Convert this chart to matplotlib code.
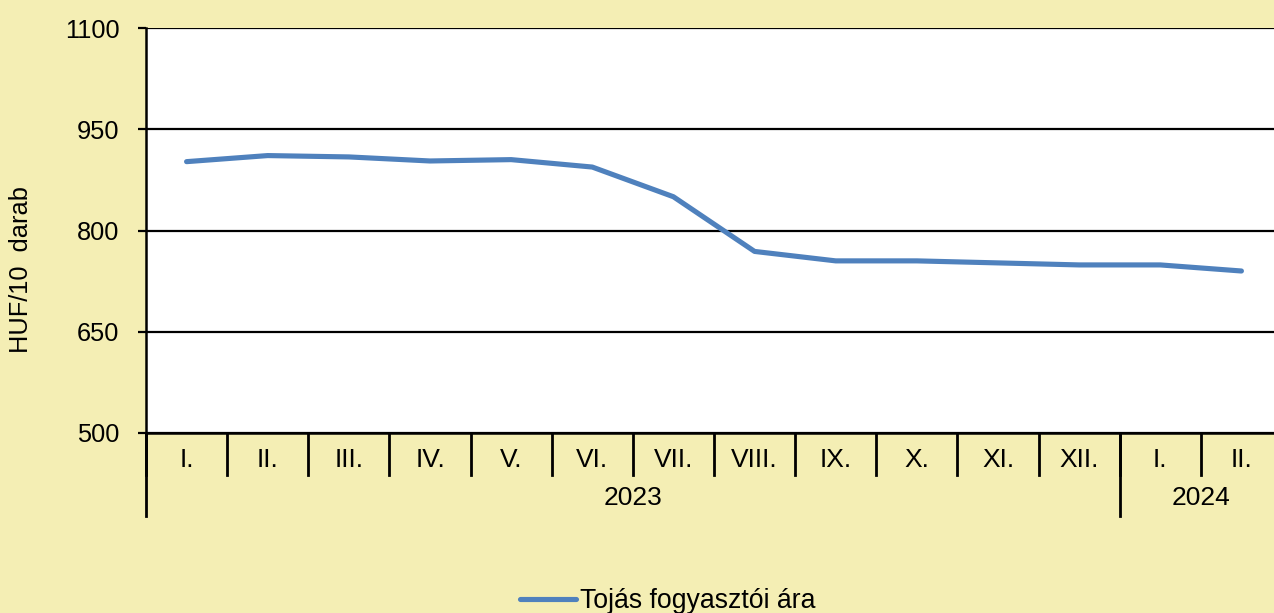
import matplotlib
matplotlib.use("Agg")
import matplotlib.pyplot as plt
import matplotlib.transforms as mtransforms

months = ["I.", "II.", "III.", "IV.", "V.", "VI.", "VII.", "VIII.", "IX.", "X.", "XI.", "XII.", "I.", "II."]
years = ["2023", "2024"]
year_counts = [12, 2]
prices = [902, 911, 909, 903, 905, 894, 850, 769, 755, 755, 752, 749, 749, 740]
series_name = "Tojás fogyasztói ára"
y_ticks = [500, 650, 800, 950, 1100]
y_label = "HUF/10  darab"

plt.rcParams['font.family'] = ['Liberation Sans', 'DejaVu Sans']
BG = "#F4EEB4"
LINE = "#4F81BD"
FS_TICK = 18.3
FS_CAT = 19
FS_LEG = 19.2
FS_YL = 18.3

W, H = 1274, 613
fig = plt.figure(figsize=(W / 100, H / 100), dpi=100, facecolor=BG)
left, right, top, bottom = 146, 1282, 28, 433
ax = fig.add_axes([left / W, 1 - bottom / H, (right - left) / W, (bottom - top) / H])
ax.set_facecolor("white")

x = list(range(len(months)))
ax.plot(x, prices, color=LINE, linewidth=3.7, solid_capstyle='round', label=series_name, zorder=3)

ax.set_xlim(-0.5, len(months) - 0.5)
ax.set_ylim(y_ticks[0], y_ticks[-1])
ax.set_yticks(y_ticks)
ax.set_yticklabels([str(v) for v in y_ticks], fontsize=FS_TICK)
ax.tick_params(axis='y', direction='out', length=6, width=1.6, color='black', pad=13)
ax.yaxis.grid(True, color='black', linewidth=1.6)
ax.set_axisbelow(True)
ax.set_xticks([])
for s in ['top', 'right']:
    ax.spines[s].set_visible(False)
for s in ['left', 'bottom']:
    ax.spines[s].set_linewidth(1.8)
    ax.spines[s].set_color('black')
ax.set_ylabel(y_label, fontsize=FS_YL)
ax.yaxis.set_label_coords(-(146 - 33) / (right - left), (433 - 270) / (bottom - top))

trans = mtransforms.blended_transform_factory(ax.transData, ax.transAxes)
px = 1.0 / (bottom - top)  # one pixel in axes fraction

# month separators and labels
for i in range(len(months) + 1):
    ax.plot([i - 0.5, i - 0.5], [0, -42 * px], transform=trans, color='black', lw=2.0, clip_on=False)
for i, m in enumerate(months):
    ax.text(i, -27 * px, m, transform=trans, ha='center', va='center', fontsize=FS_CAT)

# year separators and labels
start = 0
for yr, n in zip(years, year_counts):
    ax.plot([start - 0.5, start - 0.5], [0, -83 * px], transform=trans, color='black', lw=2.0, clip_on=False)
    ax.text(start - 0.5 + n / 2, -65 * px, yr, transform=trans, ha='center', va='center', fontsize=FS_CAT)
    start += n

fig.legend(loc='center left', bbox_to_anchor=(520 / W, 1 - 601 / H), frameon=False,
           fontsize=FS_LEG, borderpad=0, borderaxespad=0, handlelength=2.1, handletextpad=0.15)

fig.savefig("out.png", dpi=100, facecolor=BG)
